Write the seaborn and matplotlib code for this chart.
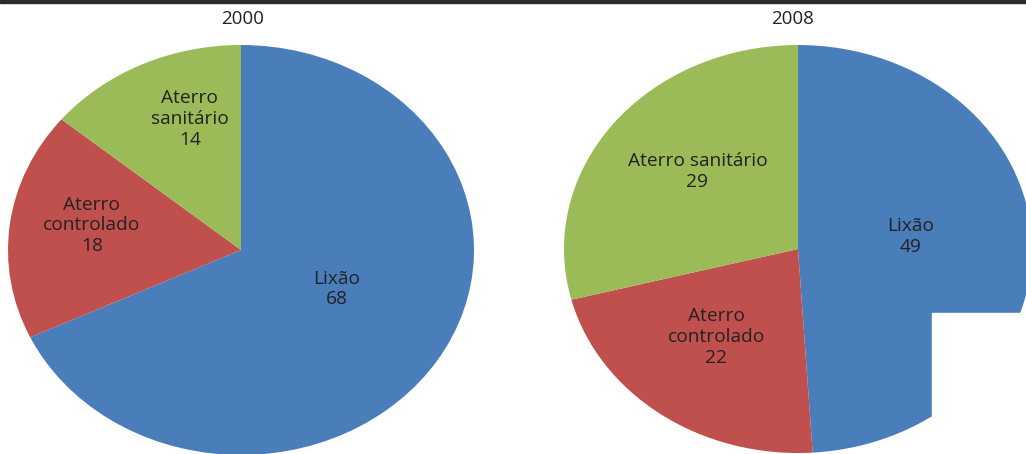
"""Two pie charts: destino dos resíduos, 2000 vs 2008."""

import matplotlib
matplotlib.use("Agg")
import matplotlib.pyplot as plt
from matplotlib.patches import Rectangle
import seaborn as sns

# Data
years = ["2000", "2008"]
categories = ["Lixão", "Aterro controlado", "Aterro sanitário"]
values_2000 = [68, 18, 14]
values_2008 = [49, 22, 29]
labels_2000 = ["Lixão", "Aterro\ncontrolado", "Aterro\nsanitário"]
labels_2008 = ["Lixão", "Aterro\ncontrolado", "Aterro sanitário"]

# Style
sns.set_theme(style="white")
plt.rcParams["font.family"] = ["Open Sans", "DejaVu Sans"]
colors = sns.color_palette(["#4a7ebb", "#c0504d", "#9bbb59"])

W, H = 1026, 454
fig = plt.figure(figsize=(W / 100, H / 100), dpi=100)

# pie boxes in pixels: (left, top, width, height) -> unit circle stretched
boxes = [(8, 45, 466, 410), (564, 45, 468, 408)]
# label positions inside each pie (unit-circle coords)
label_pos = [
    [(0.41, -0.19), (-0.64, 0.12), (-0.22, 0.64)],
    [(0.48, 0.06), (-0.35, -0.43), (-0.43, 0.38)],
]
title_x = [243, 793]

for i, (vals, labs) in enumerate([(values_2000, labels_2000), (values_2008, labels_2008)]):
    left, top, w, h = boxes[i]
    ax = fig.add_axes([left / W, (H - top - h) / H, w / W, h / H])
    ax.pie(vals, colors=colors, startangle=90, counterclock=False,
           wedgeprops=dict(linewidth=0))
    ax.set_aspect("auto")
    ax.set_xlim(-1, 1)
    ax.set_ylim(-1, 1)
    ax.axis("off")
    for (x, y), lab, v in zip(label_pos[i], labs, vals):
        ax.text(x, y, f"{lab}\n{v}", ha="center", va="center", fontsize=13.8,
                color="#222222", linespacing=1.2)
    fig.text(title_x[i] / W, 1 - 19 / H, years[i], ha="center", va="center",
             fontsize=13.5, color="#222222")

# cropped page bits: dark rule at top, white patch bottom-right
fig.patches.append(Rectangle((0, 1 - 3 / H), 1, 3 / H, transform=fig.transFigure,
                             color="#2b2b2b", zorder=10))
fig.patches.append(Rectangle((932 / W, 0), 1, (H - 313) / H, transform=fig.transFigure,
                             color="white", zorder=10))

fig.savefig("out.png", dpi=100)
